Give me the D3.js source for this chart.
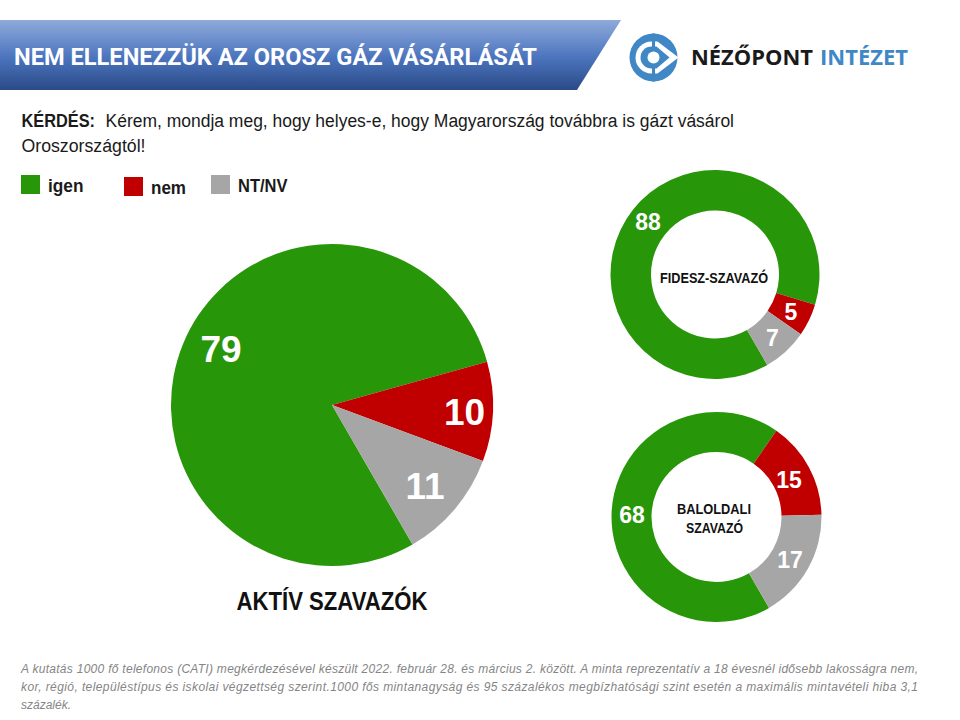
<!DOCTYPE html>
<html>
<head>
<meta charset="utf-8">
<script src="https://cdnjs.cloudflare.com/ajax/libs/d3/7.8.5/d3.min.js"></script>
<style>
html, body { margin: 0; padding: 0; background: #fff; }
svg { display: block; }
text { font-family: "Liberation Sans", Arial, sans-serif; }
</style>
</head>
<body>
<script>
// answers and the three polls
const answers = ['igen', 'nem', 'NT/NV'];
const activeVoters = [79, 10, 11];
const fideszVoters = [88, 5, 7];
const leftVoters = [68, 15, 17];
const answerColors = ['#289609', '#c00000', '#a6a6a6'];

const titleText = 'NEM ELLENEZZÜK AZ OROSZ GÁZ VÁSÁRLÁSÁT';
const questionLines = [
  'Kérem, mondja meg, hogy helyes-e, hogy Magyarország továbbra is gázt vásárol',
  'Oroszországtól!'
];
const footnoteLines = [
  'A kutatás 1000 fő telefonos (CATI) megkérdezésével készült 2022. február 28. és március 2. között. A minta reprezentatív a 18 évesnél idősebb lakosságra nem,',
  'kor, régió, településtípus és iskolai végzettség szerint.1000 fős mintanagyság és 95 százalékos megbízhatósági szint esetén a maximális mintavételi hiba 3,1',
  'százalék.'
];

const width = 960;
const height = 720;

const svg = d3.select('body').append('svg')
    .attr('width', width)
    .attr('height', height);

// header band
const grad = svg.append('defs').append('linearGradient')
    .attr('id', 'band')
    .attr('x1', 0).attr('y1', 0).attr('x2', 0).attr('y2', 1);
grad.append('stop').attr('offset', '0%').attr('stop-color', '#8eaadb');
grad.append('stop').attr('offset', '55%').attr('stop-color', '#4a73bd');
grad.append('stop').attr('offset', '100%').attr('stop-color', '#2b4a86');

svg.append('path')
    .attr('d', 'M0,20 L621,20 L577,90 L0,90 Z')
    .attr('fill', 'url(#band)');

svg.append('text')
    .attr('x', 14)
    .attr('y', 65)
    .attr('fill', '#fff')
    .attr('font-size', 24)
    .attr('font-weight', 'bold')
    .attr('textLength', 523)
    .attr('lengthAdjust', 'spacingAndGlyphs')
    .style('font-family', 'Roboto')
    .text(titleText);

// logo
const logoBlue = '#3f87c5';
const logo = svg.append('g').attr('transform', 'translate(653.5,57.5)');
logo.append('circle').attr('r', 24).attr('fill', logoBlue);
logo.append('path')
    .attr('d', 'M-2,-16 A16,16 0 1 0 -2,16 L4,16 L25,0 L4,-16 Z')
    .attr('fill', '#fff');
logo.append('path')
    .attr('d', 'M-2,-11 A11,11 0 1 0 -2,11 L3,11 L16,0 L3,-11 Z')
    .attr('fill', logoBlue);
logo.append('circle').attr('r', 6).attr('fill', '#fff');
logo.append('rect').attr('x', -1.5).attr('y', -24).attr('width', 3).attr('height', 14).attr('fill', logoBlue);
logo.append('rect').attr('x', -1.5).attr('y', 10).attr('width', 3).attr('height', 14).attr('fill', logoBlue);
svg.append('text')
    .attr('x', 691).attr('y', 65)
    .attr('font-size', 21).attr('font-weight', 'bold')
    .attr('fill', '#1a1a1a')
    .style('font-family', 'Open Sans')
    .attr('textLength', 122).attr('lengthAdjust', 'spacingAndGlyphs')
    .text('NÉZŐPONT');
svg.append('text')
    .attr('x', 820).attr('y', 65)
    .attr('font-size', 21).attr('font-weight', 'bold')
    .attr('fill', logoBlue)
    .style('font-family', 'Open Sans')
    .attr('textLength', 88).attr('lengthAdjust', 'spacingAndGlyphs')
    .text('INTÉZET');

// question
svg.append('text')
    .attr('x', 21.5).attr('y', 126.5)
    .attr('font-size', 18).attr('font-weight', 'bold')
    .attr('fill', '#1a1a1a')
    .attr('textLength', 73.5).attr('lengthAdjust', 'spacingAndGlyphs')
    .text('KÉRDÉS:');
svg.append('text')
    .attr('x', 105.5).attr('y', 126.5)
    .attr('font-size', 18)
    .attr('fill', '#1a1a1a')
    .attr('textLength', 628.5).attr('lengthAdjust', 'spacingAndGlyphs')
    .text(questionLines[0]);
svg.append('text')
    .attr('x', 21.5).attr('y', 151.5)
    .attr('font-size', 18)
    .attr('fill', '#1a1a1a')
    .attr('textLength', 124).attr('lengthAdjust', 'spacingAndGlyphs')
    .text(questionLines[1]);

// legend (the boxes in the source sit a little uneven)
const legendX = d3.scaleOrdinal().domain(answers).range([21, 124, 211]);
const legendY = d3.scaleOrdinal().domain(answers).range([175, 177, 175]);
const legendTextWidth = d3.scaleOrdinal().domain(answers).range([35.5, 35, 49.5]);
const legendItem = svg.append('g').selectAll('g').data(answers).enter().append('g')
    .attr('transform', d => `translate(${legendX(d)},${legendY(d)})`);
legendItem.append('rect')
    .attr('width', 19).attr('height', 19)
    .attr('fill', (d, i) => answerColors[i]);
legendItem.append('text')
    .attr('x', 27)
    .attr('y', 16.5)
    .attr('font-size', 18).attr('font-weight', 'bold')
    .attr('fill', '#1a1a1a')
    .attr('textLength', d => legendTextWidth(d)).attr('lengthAdjust', 'spacingAndGlyphs')
    .text(d => d);

// pie / donut drawing
const toRad = Math.PI / 180;

function drawRing(values, opts) {
    const pie = d3.pie().sort(null).startAngle(150 * toRad).endAngle(510 * toRad);
    const arc = d3.arc().innerRadius(opts.inner).outerRadius(opts.outer);
    const g = svg.append('g').attr('transform', `translate(${opts.cx},${opts.cy})`);
    const arcs = pie(values);

    g.selectAll('path').data(arcs).enter().append('path')
        .attr('d', arc)
        .attr('fill', (d, i) => answerColors[i]);

    g.selectAll('text').data(arcs).enter().append('text')
        .attr('x', (d, i) => opts.labels[i][0])
        .attr('y', (d, i) => opts.labels[i][1])
        .attr('text-anchor', 'middle')
        .attr('dominant-baseline', 'central')
        .attr('font-size', opts.fontSize)
        .attr('font-weight', 'bold')
        .attr('fill', '#fff')
        .text(d => d.value);
}

drawRing(activeVoters, {cx: 332, cy: 405, inner: 0, outer: 161, fontSize: 37,
    labels: [[-111, -56], [132.5, 7], [93, 81]]});
drawRing(fideszVoters, {cx: 715, cy: 274.5, inner: 64, outer: 104.5, fontSize: 23,
    labels: [[-67, -53], [76, 37], [57.5, 63]]});
drawRing(leftVoters, {cx: 716.5, cy: 517, inner: 65, outer: 105, fontSize: 23,
    labels: [[-84.5, -2.5], [72.5, -37.5], [73.5, 42.5]]});

svg.append('text')
    .attr('x', 332).attr('y', 610)
    .attr('text-anchor', 'middle')
    .attr('font-size', 25).attr('font-weight', 'bold')
    .attr('fill', '#111')
    .attr('textLength', 191).attr('lengthAdjust', 'spacingAndGlyphs')
    .text('AKTÍV SZAVAZÓK');

svg.append('text')
    .attr('x', 714).attr('y', 283)
    .attr('text-anchor', 'middle')
    .attr('font-size', 15).attr('font-weight', 'bold')
    .attr('fill', '#111')
    .attr('textLength', 108).attr('lengthAdjust', 'spacingAndGlyphs')
    .text('FIDESZ-SZAVAZÓ');

svg.append('text')
    .attr('x', 714).attr('y', 514)
    .attr('text-anchor', 'middle')
    .attr('font-size', 15).attr('font-weight', 'bold')
    .attr('fill', '#111')
    .attr('textLength', 74).attr('lengthAdjust', 'spacingAndGlyphs')
    .text('BALOLDALI');
svg.append('text')
    .attr('x', 714.5).attr('y', 532.5)
    .attr('text-anchor', 'middle')
    .attr('font-size', 15).attr('font-weight', 'bold')
    .attr('fill', '#111')
    .attr('textLength', 57).attr('lengthAdjust', 'spacingAndGlyphs')
    .text('SZAVAZÓ');

// footnote
svg.append('g').selectAll('text').data(footnoteLines).enter().append('text')
    .attr('x', 21)
    .attr('y', (d, i) => 672.5 + i * 18)
    .attr('font-size', 12)
    .attr('font-style', 'italic')
    .attr('fill', '#858585')
    .attr('textLength', (d, i) => i === 2 ? null : 897)
    .attr('lengthAdjust', 'spacing')
    .text(d => d);
</script>
</body>
</html>
